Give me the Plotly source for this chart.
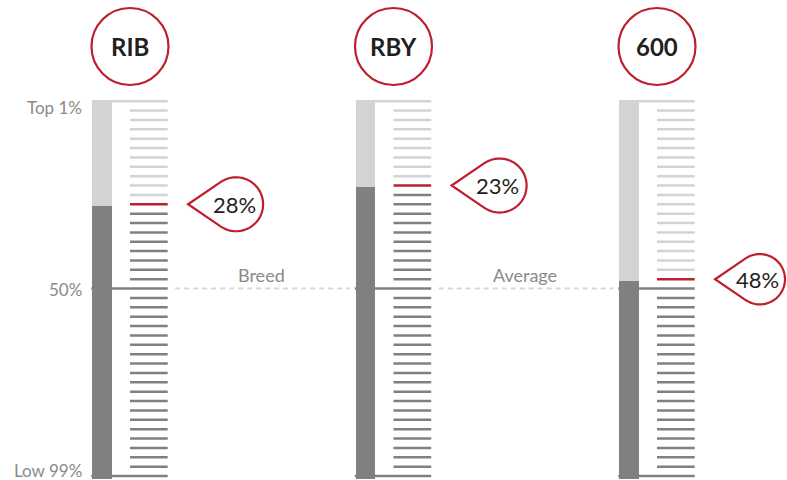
import numpy as np
import plotly.graph_objects as go

# ---------------- data ----------------
categories = ["RIB", "RBY", "600"]
values = [28, 23, 48]                      # percentile rank (0 = top, 100 = low)
value_labels = ["28%", "23%", "48%"]
y_label_text = ["Top 1%", "50%", "Low 99%"]
y_label_pos = [1.8, 50.2, 98.4]
gap_labels = ["Breed", "Average"]
reference_line = 50
tick_step = 2.5

# ---------------- style / geometry (pixels) ----------------
W, H = 787, 480
COL_PX = 263.5          # horizontal distance between columns
X0_PX = 92.3            # left edge of first bar
Y0_PX = 101.2           # pixel of 0 %
PX_PER_PCT = 3.748
BAR_W = 19.4
TICK_X0, TICK_X1 = 37.7, 75.4
LIGHT = "#d1d3d4"
DARK = "#808080"
RED = "#be1e2d"
TEXT = "#231f20"
GREY_TXT = "#8a8a8a"
FONT = "Lato"

def px2x(p):
    return p / COL_PX

def px2y(p):
    return p / PX_PER_PCT

x_range = [-X0_PX / COL_PX, (W - X0_PX) / COL_PX]
y_range = [(H - Y0_PX) / PX_PER_PCT, -Y0_PX / PX_PER_PCT]

fig = go.Figure()

# ---------------- thick bars ----------------
xs = np.arange(len(categories))
bar_x = xs + px2x(BAR_W / 2)
top_pad, bot_pad = px2y(1.2), px2y(3.3)
fig.add_trace(go.Bar(x=bar_x, base=[-top_pad] * len(values),
                     y=[v + top_pad for v in values], width=px2x(BAR_W),
                     marker=dict(color=LIGHT, line=dict(width=0)), hoverinfo="skip"))
fig.add_trace(go.Bar(x=bar_x, base=values,
                     y=[100 + bot_pad - v for v in values], width=px2x(BAR_W),
                     marker=dict(color=DARK, line=dict(width=0)), hoverinfo="skip"))

# ---------------- tick ladders ----------------
segs = {"light": ([], []), "red": ([], []), "dark": ([], [])}
ticks = np.arange(0, 100 + 1e-9, tick_step)
for i, v in enumerate(values):
    red_t = round(v / tick_step) * tick_step
    for t in ticks:
        if t in (0, 100, reference_line):
            xa = i + px2x(-1 if t != 0 else 0)
        else:
            xa = i + px2x(TICK_X0)
        xb = i + px2x(TICK_X1)
        key = "red" if abs(t - red_t) < 1e-9 else ("light" if t < red_t else "dark")
        segs[key][0].extend([xa, xb, None])
        segs[key][1].extend([t, t, None])
for key, col in (("light", LIGHT), ("dark", DARK), ("red", RED)):
    fig.add_trace(go.Scatter(x=segs[key][0], y=segs[key][1], mode="lines",
                             line=dict(color=col, width=2.5), hoverinfo="skip"))

# ---------------- dashed reference line + labels ----------------
for i, lab in enumerate(gap_labels):
    xa = i + px2x(TICK_X1 + 7.5)
    xb = (i + 1) - px2x(6)
    fig.add_trace(go.Scatter(x=[xa, xb], y=[reference_line, reference_line], mode="lines",
                             line=dict(color="#d6d7d9", width=2, dash="5px,4px"),
                             hoverinfo="skip"))
    xm = (i + px2x(TICK_X1) + (i + 1)) / 2
    fig.add_annotation(x=xm, y=reference_line, yanchor="bottom", yshift=1,
                       text=lab, showarrow=False,
                       font=dict(family=FONT, size=18, color=GREY_TXT))

# ---------------- y labels ----------------
for t, yp in zip(y_label_text, y_label_pos):
    fig.add_annotation(x=px2x(83.5 - X0_PX), y=yp, xanchor="right", yanchor="middle",
                       text=t, showarrow=False,
                       font=dict(family=FONT, size=17, color=GREY_TXT))

# ---------------- header circles ----------------
circ_y = px2y(46.5 - Y0_PX)
for i, c in enumerate(categories):
    cx = i + px2x(TICK_X1 / 2)
    fig.add_shape(type="circle", xref="x", yref="y", xsizemode="pixel", ysizemode="pixel",
                  xanchor=cx, yanchor=circ_y, x0=-38.5, x1=38.5, y0=-38.5, y1=38.5,
                  line=dict(color=RED, width=2.2), fillcolor="white")
    fig.add_annotation(x=cx, y=circ_y, text="<b>" + c + "</b>", showarrow=False,
                       font=dict(family=FONT, size=24, color=TEXT))

# ---------------- pointer markers ----------------
R, D = 27.0, 48.0
for i, (v, lab) in enumerate(zip(values, value_labels)):
    red_t = round(v / tick_step) * tick_step
    tip_px = X0_PX + i * COL_PX + TICK_X1 + 20.4
    s = min(1.0, (W - 2 - tip_px) / (D + R))
    r, d = R * s, D * s
    th = np.arccos(r / d)
    angs = np.linspace(np.pi - th, -(np.pi - th), 60)
    pts = [(0.0, 0.0)] + [(d + r * np.cos(a), r * np.sin(a)) for a in angs]
    path = "M " + " L ".join(f"{px:.2f},{py:.2f}" for px, py in pts) + " Z"
    tip_x = i + px2x(TICK_X1 + 20.4)
    fig.add_shape(type="path", xref="x", yref="y", xsizemode="pixel", ysizemode="pixel",
                  xanchor=tip_x, yanchor=red_t, path=path,
                  line=dict(color=RED, width=2.2), fillcolor="white")
    fig.add_annotation(x=tip_x + px2x(d - 2), y=red_t, text=lab, showarrow=False,
                       font=dict(family=FONT, size=22, color=TEXT))

fig.update_layout(
    width=W, height=H, autosize=False,
    margin=dict(l=0, r=0, t=0, b=0),
    paper_bgcolor="white", plot_bgcolor="white",
    showlegend=False, barmode="overlay", bargap=0,
    xaxis=dict(range=x_range, visible=False, fixedrange=True),
    yaxis=dict(range=y_range, visible=False, fixedrange=True),
)

fig.write_html("out.html",
               config={"displayModeBar": False, "staticPlot": True},
               post_script="document.body.style.margin='0';document.body.style.overflow='hidden';")
